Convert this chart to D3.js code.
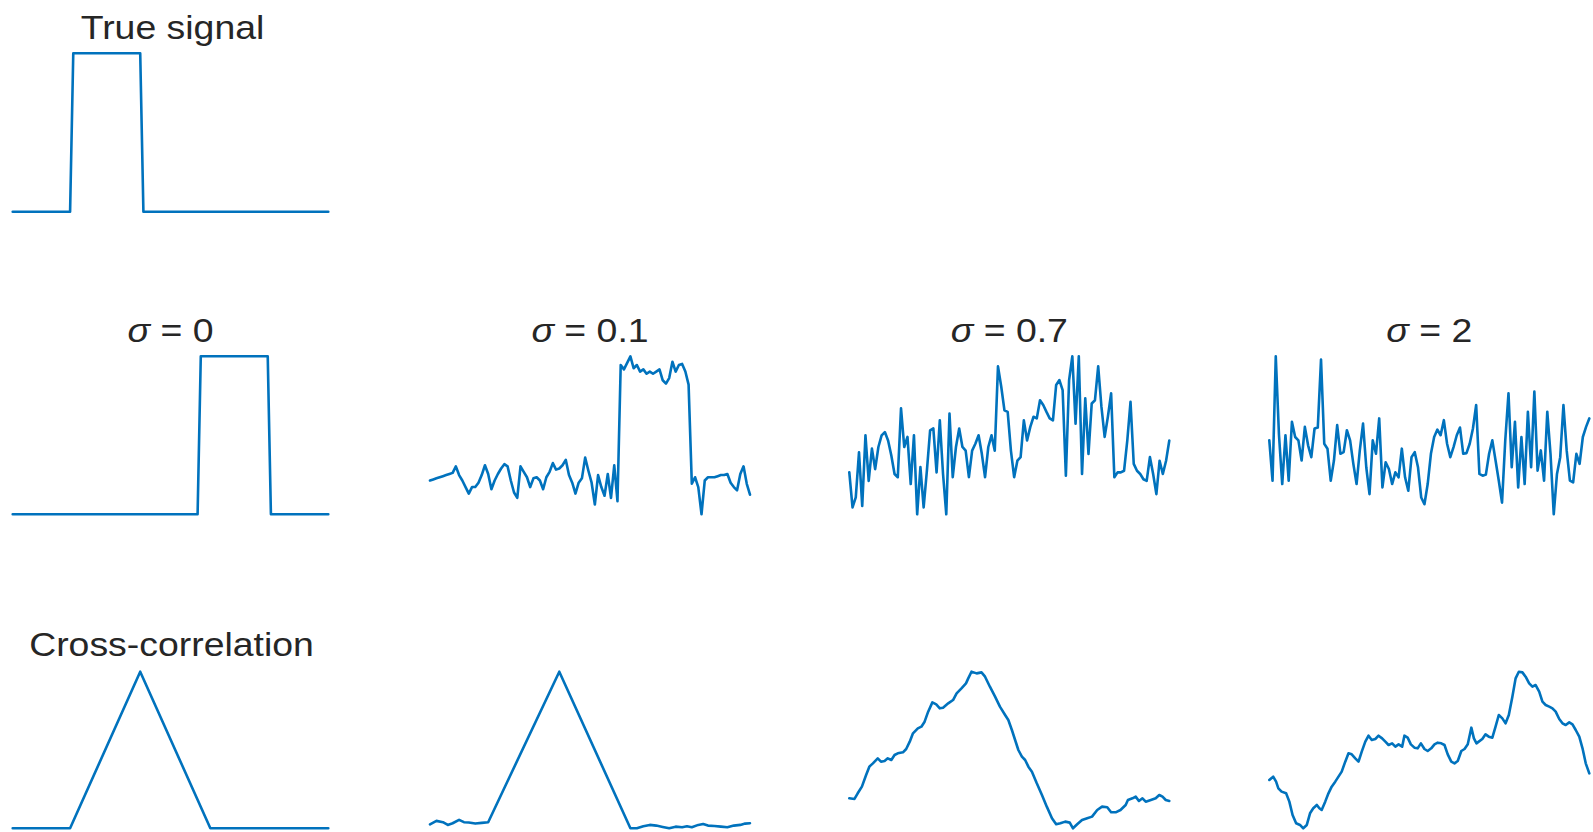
<!DOCTYPE html>
<html>
<head>
<meta charset="utf-8">
<script src="https://cdn.jsdelivr.net/npm/d3@7"></script>
<style>
  html, body { margin: 0; padding: 0; background: #ffffff; }
  svg { display: block; }
</style>
</head>
<body>
<svg id="fig" width="1593" height="832"></svg>
<script>
// ---- Data -------------------------------------------------------------
// Sample index of every received signal (100 samples)
const sampleIndex = d3.range(100);

// True rectangular pulse, given as breakpoints (sample index, amplitude)
const trueSignalIndex = [0, 18, 19, 40, 41, 99];
const trueSignalValue = [0, 0, 1, 1, 0, 0];

// Noise levels of the received signals
const noiseLevels = ["0", "0.1", "0.7", "2"];

// Received signal without noise (delayed pulse), as breakpoints
const received0Index = [0, 58, 59, 80, 81, 99];
const received0Value = [0, 0, 1, 1, 0, 0];

// Received signal, sigma = 0.1
const received01 = [
  0.00, 0.01, 0.02, 0.03, 0.04, 0.05, 0.06, 0.07, 0.13, 0.05,
  0.00, -0.06, -0.12, -0.06, -0.06, -0.02, 0.05, 0.14, 0.06, -0.08,
  0.00, 0.06, 0.11, 0.15, 0.13, 0.00, -0.11, -0.16, 0.13, 0.08,
  0.03, -0.06, 0.02, 0.03, 0.00, -0.08, 0.03, 0.08, 0.16, 0.10,
  0.11, 0.14, 0.19, 0.05, -0.02, -0.12, -0.02, 0.02, 0.21, 0.09,
  -0.02, -0.22, 0.05, -0.06, -0.14, 0.06, -0.16, 0.14, -0.19, 1.06,
  1.02, 1.08, 1.14, 1.03, 1.06, 1.00, 1.02, 0.98, 1.00, 0.98,
  1.00, 1.02, 0.92, 0.89, 0.94, 1.09, 1.00, 1.06, 1.07, 1.00,
  0.88, -0.03, 0.03, -0.06, -0.31, 0.00, 0.03, 0.03, 0.03, 0.04,
  0.05, 0.05, 0.06, -0.02, -0.06, -0.09, 0.06, 0.13, -0.03, -0.13
];

// Received signal, sigma = 0.7
const received07 = [
  -0.46, -1.33, -1.08, 0.04, -1.29, 0.46, -0.67, 0.13, -0.38, 0.17,
  0.46, 0.54, 0.33, -0.04, -0.50, -0.58, 1.13, 0.17, 0.42, -0.75,
  0.46, -1.50, -0.33, -1.33, -0.42, 0.58, 0.63, -0.46, 0.83, -0.50,
  -1.50, 1.00, -0.58, 0.17, 0.63, 0.17, 0.08, -0.58, 0.08, 0.25,
  0.46, 0.00, -0.58, 0.17, 0.46, 0.08, 2.17, 1.67, 1.08, 1.04,
  0.08, -0.58, -0.17, -0.08, 0.83, 0.33, 0.67, 0.92, 0.88, 1.33,
  1.21, 1.04, 0.88, 0.83, 1.71, 1.83, 1.58, -0.54, 1.83, 2.42,
  0.75, 2.42, -0.50, 1.38, 0.00, 1.25, 1.33, 2.17, 1.17, 0.42,
  0.92, 1.50, -0.58, -0.46, -0.46, -0.42, 0.33, 1.29, -0.25, -0.42,
  -0.50, -0.63, -0.67, -0.08, -0.50, -1.00, -0.17, -0.50, -0.17, 0.33
];

// Received signal, sigma = 2
const received2 = [
  0.75, -2.25, 7.00, 1.13, -2.50, 1.13, -2.25, 2.13, 1.00, 0.75,
  -0.75, 1.75, 0.38, -0.50, 1.63, 1.70, 6.75, 0.50, 0.13, -2.25,
  -0.75, 1.88, -0.25, -0.13, 1.50, 0.75, -1.00, -2.50, 0.00, 2.00,
  -1.25, -3.25, 0.75, -0.25, 2.38, -2.75, -0.88, -1.38, -2.50, -1.63,
  -2.00, 0.13, -2.00, -3.00, -0.50, -0.13, -1.25, -3.50, -4.00, -2.50,
  -0.25, 1.00, 1.55, 1.13, 2.25, 0.50, -0.50, 0.25, 1.13, 1.70,
  -0.25, -0.20, 0.50, 1.63, 3.38, -1.75, -1.88, -1.80, -0.25, 0.75,
  -0.75, -2.25, -3.88, 0.75, 4.25, -1.25, 2.13, -2.75, 1.00, -2.50,
  2.88, -1.25, 4.38, -1.50, 0.00, -2.25, 2.88, -0.25, -4.75, -1.75,
  -0.50, 3.38, 0.00, -2.25, -2.38, -0.25, -1.00, 1.00, 1.75, 2.38
];

// Cross-correlation with the true signal (lag index, value)
const xcorr0Lag = [0, 18, 40, 62, 99];
const xcorr0Value = [0, 0, 22, 0, 0];

const xcorr01Lag = [0, 2, 4, 5.5, 7, 9, 10.5, 12, 14, 16, 18, 40, 62, 64, 66, 68, 70, 72, 74, 76,
  78, 79.5, 81, 83, 84.5, 86, 88, 90, 92, 94, 96, 97.5, 99];
const xcorr01Value = [-0.15, 0.34, 0.15, -0.24, 0, 0.49, 0.15, 0.10, -0.05, 0.05, 0.15, 21.84,
  -0.73, -0.73, -0.44, -0.24, -0.34, -0.53, -0.73, -0.49, -0.58, -0.44, -0.58, -0.24, -0.10,
  -0.34, -0.39, -0.49, -0.58, -0.34, -0.24, -0.05, 0];

const xcorr07Lag = [0, 1.6, 2.6, 3.9, 5.2, 6.2, 7.3, 8.8, 9.8, 10.9,
  11.9, 13, 14, 15, 16.6, 17.6, 18.7, 19.7, 21.2, 22.3,
  23.3, 24.4, 25.7, 26.9, 28, 29, 30.6, 32.1, 33.2, 34.7,
  36.1, 36.8, 37.8, 39.4, 40.9, 42, 43.5, 45.1, 46.6, 48.2,
  49.2, 50.3, 51.3, 52.3, 53.4, 54.4, 55.4, 56.5, 58, 59.6,
  61.1, 62.7, 64, 65.3, 66.8, 68.2, 69.2, 70.5, 72, 73.6,
  75.1, 76.7, 78.2, 79.8, 81, 82.4, 83.9, 85.5, 86.2, 87.6,
  88.6, 89.6, 90.7, 91.7, 93.3, 94.8, 95.9, 96.9, 97.9, 99];
const xcorr07Value = [1.0, 0.9, 1.75, 2.75, 4.5, 5.75, 6.25, 7.0, 6.5, 6.6,
  7.0, 6.75, 7.5, 7.75, 7.9, 8.4, 9.5, 10.75, 11.5, 11.75,
  12.5, 14.0, 15.4, 15.1, 14.5, 14.6, 15.25, 15.75, 16.75, 17.5,
  18.25, 19.0, 20.0, 19.75, 19.9, 19.25, 17.75, 16.25, 14.75, 13.5,
  12.75, 11.25, 9.75, 8.25, 7.25, 6.75, 5.75, 5.0, 3.25, 1.5,
  -0.25, -2.0, -2.9, -2.75, -2.5, -2.65, -3.5, -2.9, -2.25, -2.0,
  -1.75, -0.75, -0.25, -0.35, -1.1, -1.1, -0.75, 0.0, 0.75, 1.0,
  1.25, 0.6, 1.0, 0.5, 0.75, 1.0, 1.5, 1.25, 0.75, 0.6];

const xcorr2Lag = [0, 1.2, 2.1, 2.8, 3.8, 5.2, 6.2, 7.2, 8.3, 9.5,
  10.5, 11.6, 12.6, 13.6, 14.7, 15.5, 16.2, 17.3, 18.3, 19.3,
  20.4, 21.4, 22.4, 23.5, 24.5, 25.5, 26.6, 27.6, 28.6, 29.7,
  30.7, 31.7, 32.8, 33.8, 34.9, 35.9, 36.9, 38, 39, 40,
  41.1, 41.8, 42.8, 43.8, 44.9, 45.9, 46.9, 48, 49, 50.1,
  51.1, 52.1, 53.2, 54.2, 55.2, 56.3, 57.3, 58.3, 59.4, 60.4,
  61.4, 62.5, 63.3, 64.1, 64.8, 65.9, 66.9, 67.9, 69, 70,
  71, 72.1, 73.1, 74.1, 75.2, 76.2, 77.2, 78.3, 79.3, 80.4,
  81.4, 82.4, 83.5, 84.5, 85.5, 86.6, 87.6, 88.6, 89.7, 90.7,
  91.7, 92.8, 93.8, 94.8, 95.9, 96.9, 97.9, 99];
const xcorr2Value = [-1.25, -0.75, -1.5, -2.5, -3.0, -3.25, -4.5, -6.5, -7.75, -8.0,
  -8.5, -8.0, -6.25, -5.5, -5.0, -5.5, -5.75, -4.5, -3.25, -2.25,
  -1.5, -0.75, 0.0, 1.5, 2.75, 2.6, 2.0, 1.5, 3.0, 4.5,
  5.4, 4.75, 4.9, 5.4, 5.0, 4.5, 4.0, 4.25, 3.75, 4.1,
  3.75, 5.4, 5.1, 4.1, 3.6, 3.5, 4.25, 3.4, 3.1, 3.5,
  4.1, 4.35, 4.25, 4.0, 2.6, 1.5, 1.25, 1.6, 3.1, 3.4,
  4.1, 6.6, 5.0, 4.25, 4.5, 4.9, 5.6, 5.25, 5.1, 6.75,
  8.5, 8.0, 7.25, 8.5, 11.25, 14.0, 15.0, 14.9, 14.25, 13.25,
  12.75, 13.0, 12.0, 10.5, 10.0, 9.75, 9.5, 9.0, 7.9, 7.25,
  7.0, 7.4, 7.1, 6.25, 5.25, 3.5, 1.25, -0.25];

// ---- Layout -----------------------------------------------------------
const colSpans = [[12.7, 328.3], [430, 750], [849.3, 1169.3], [1269.3, 1589.3]];
const rowSpans = [[53.3, 211.7], [356.3, 514.3], [671.7, 828.3]];
const lineColor = "#0072BD";
const fontFamily = "'Liberation Sans', Arial, Helvetica, sans-serif";

const zip = (xs, ys) => xs.map((x, i) => [x, ys[i]]);

const panels = [
  { row: 0, col: 0, points: zip(trueSignalIndex, trueSignalValue) },
  { row: 1, col: 0, points: zip(received0Index, received0Value) },
  { row: 1, col: 1, points: zip(sampleIndex, received01) },
  { row: 1, col: 2, points: zip(sampleIndex, received07) },
  { row: 1, col: 3, points: zip(sampleIndex, received2) },
  { row: 2, col: 0, points: zip(xcorr0Lag, xcorr0Value) },
  { row: 2, col: 1, points: zip(xcorr01Lag, xcorr01Value) },
  { row: 2, col: 2, points: zip(xcorr07Lag, xcorr07Value) },
  { row: 2, col: 3, points: zip(xcorr2Lag, xcorr2Value) }
];

const svg = d3.select("#fig");

// Each panel: tight axes, no ticks, just the trace
panels.forEach(p => {
  const x = d3.scaleLinear().domain([0, 99]).range(colSpans[p.col]);
  const y = d3.scaleLinear()
    .domain(d3.extent(p.points, d => d[1]))
    .range([rowSpans[p.row][1], rowSpans[p.row][0]]);
  const line = d3.line().x(d => x(d[0])).y(d => y(d[1]));
  svg.append("path")
    .datum(p.points)
    .attr("d", line)
    .attr("fill", "none")
    .attr("stroke", lineColor)
    .attr("stroke-width", 2.6)
    .attr("stroke-linejoin", "round")
    .attr("stroke-linecap", "round");
});

// ---- Titles -----------------------------------------------------------
function title(cx, baseline) {
  return svg.append("text")
    .attr("transform", `translate(${cx},${baseline}) scale(1.1,1)`)
    .attr("text-anchor", "middle")
    .attr("font-family", fontFamily)
    .attr("font-size", 34)
    .attr("fill", "#262626");
}

const colCenter = c => (colSpans[c][0] + colSpans[c][1]) / 2;

title(colCenter(0) + 2, 39).text("True signal");
title(colCenter(0) + 1, 656).text("Cross-correlation");

noiseLevels.forEach((s, c) => {
  const t = title(colCenter(c), 342);
  t.append("tspan").attr("font-style", "italic").text("σ");
  t.append("tspan").text(" = " + s);
});
</script>
</body>
</html>
